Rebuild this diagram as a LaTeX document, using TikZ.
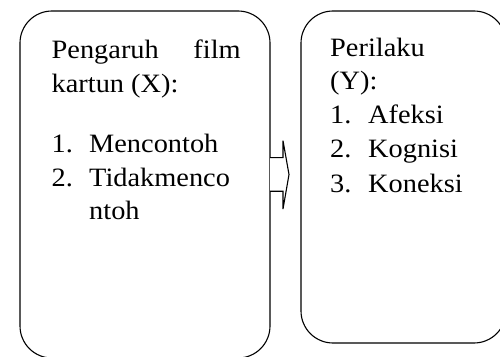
\documentclass[tikz,border=0pt]{standalone}
\usepackage{fontspec}
\setmainfont{Liberation Serif}[FakeStretch=1.07]
\begin{document}
\begin{tikzpicture}[x=1pt,y=1pt,
  box/.style={draw,line width=1.1pt,rounded corners=32pt,rectangle,inner sep=0pt},
  txt/.style={anchor=base west,inner sep=0pt,font=\fontsize{26.5}{34}\selectfont},
  blockarrow/.style={draw,line width=1.1pt,fill=white,line join=miter}]
\useasboundingbox (0,0) rectangle (500,356);
\clip (0,0) rectangle (500,356);
\node[box,minimum width=250pt,minimum height=347pt] (L) at (145,171.5) {};
\node[box,minimum width=205pt,minimum height=332pt] (R) at (403.5,179) {};
% arrow
\coordinate (a1) at (270,198.3);
\coordinate (a2) at (283,198.3);
\coordinate (a3) at (283,215.3);
\coordinate (tip) at (289,181.5);
\coordinate (a5) at (283,147);
\coordinate (a6) at (283,164.7);
\coordinate (a7) at (270,164.7);
\draw[blockarrow] (a1) -- (a2) -- (a3) -- (tip) -- (a5) -- (a6) -- (a7);
% left text
\node[txt] (l1) at (51.5,297) {\makebox[189pt][s]{Pengaruh\hfill film}};
\node[txt] (l2) at (51.5,263) {kartun (X):};
\node[txt] (l3n) at (51.5,203) {1.};
\node[txt] (l3) at (89,203) {Mencontoh};
\node[txt] (l4n) at (51.5,169.5) {2.};
\node[txt] (l4) at (89,169.5) {Tidakmenco};
\node[txt] (l5) at (89,136) {ntoh};
% right text
\node[txt] (r1) at (330,299.5) {Perilaku};
\node[txt] (r2) at (330,266) {(Y):};
\node[txt] (r3n) at (330,232) {1.};
\node[txt] (r3) at (368,232) {Afeksi};
\node[txt] (r4n) at (330,198) {2.};
\node[txt] (r4) at (368,198) {Kognisi};
\node[txt] (r5n) at (330,163.5) {3.};
\node[txt] (r5) at (368,163.5) {Koneksi};
\end{tikzpicture}
\end{document}
